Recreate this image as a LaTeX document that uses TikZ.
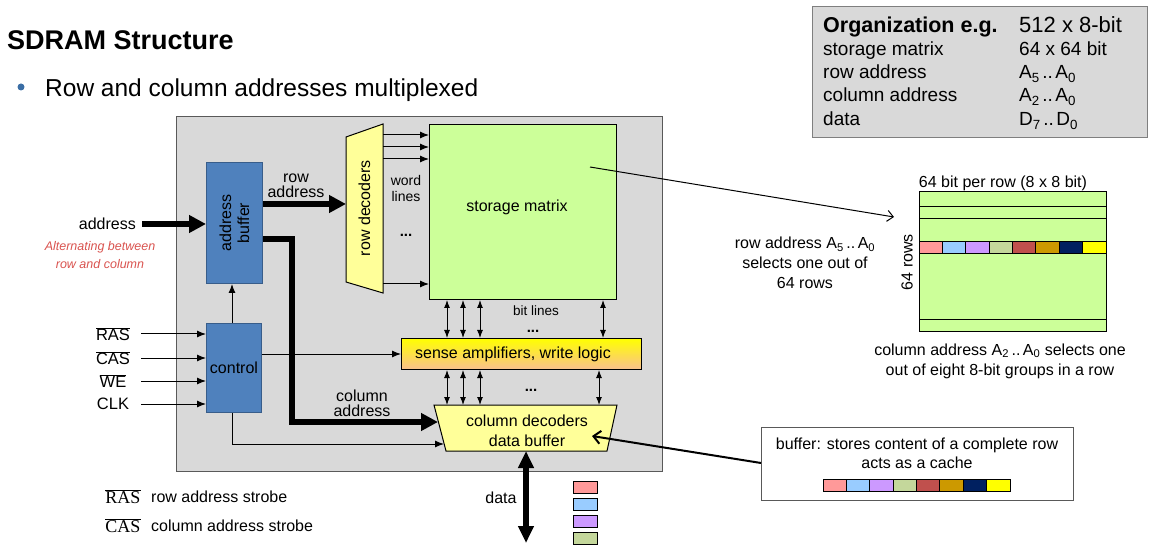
\documentclass[tikz,border=0pt]{standalone}
\usepackage{fontspec}
\setmainfont{Liberation Sans}
\newfontfamily\legserif{Liberation Serif}
\usetikzlibrary{arrows.meta,calc}
\definecolor{panel}{HTML}{D9D9D9}
\definecolor{chipedge}{HTML}{595959}
\definecolor{boxedge}{HTML}{7F7F7F}
\definecolor{blockblue}{HTML}{4F81BD}
\definecolor{blockedge}{HTML}{385D8A}
\definecolor{lyellow}{HTML}{FFFF99}
\definecolor{lgreen}{HTML}{CCFF99}
\definecolor{senseTop}{HTML}{FFFF00}
\definecolor{senseBot}{HTML}{FAC08F}
\definecolor{noteRed}{HTML}{D9534F}
\definecolor{bulletblue}{HTML}{3B6EA5}
\definecolor{cA}{HTML}{FF9999}
\definecolor{cB}{HTML}{99CCFF}
\definecolor{cC}{HTML}{CC99FF}
\definecolor{cD}{HTML}{C4D79B}
\definecolor{cE}{HTML}{C0504D}
\definecolor{cF}{HTML}{CC9900}
\definecolor{cG}{HTML}{002060}
\definecolor{cH}{HTML}{FFFF00}
\newcommand\ovl[1]{$\overline{\mbox{#1}}$}
\newcommand\rng[2]{#1\hspace{2.5pt}..\hspace{2.5pt}#2}
\begin{document}
\begin{tikzpicture}[x=1pt,y=-1pt,
  lbl/.style={font=\fontsize{16}{19}\selectfont, align=center, inner sep=0pt},
  small/.style={font=\fontsize{14}{16}\selectfont, align=center, inner sep=0pt},
  dotsty/.style={font=\bfseries\fontsize{15}{16}\selectfont, inner sep=0pt, anchor=base},
  blk/.style={draw=blockedge, fill=blockblue, line width=1pt, inner sep=0pt, anchor=north west},
  thinarr/.style={line width=1pt, -{Latex[length=9pt,width=7pt]}},
  bidir/.style={line width=1pt, {Latex[length=8pt,width=6pt]}-{Latex[length=8pt,width=6pt]}},
  thickarr/.style={line width=6pt, -{Triangle[length=17pt,width=17pt]}},
  openarr/.style={line width=1pt, -{Straight Barb[length=6pt,width=11pt]}},
  tabtxt/.style={font=\fontsize{19}{22}\selectfont, inner sep=0pt, anchor=base west},
  cell/.style={draw=black, line width=0.8pt}
]
\useasboundingbox (0,0) rectangle (1154,553);

% title and bullet
\node[anchor=base west, inner sep=0pt, font=\bfseries\fontsize{27}{30}\selectfont] (title) at (7,50) {SDRAM Structure};
\node[circle, fill=bulletblue, minimum size=7pt, inner sep=0pt] (bul) at (21,87) {};
\node[anchor=base west, inner sep=0pt, font=\fontsize{24.5}{28}\selectfont] (btxt) at (45,97) {Row and column addresses multiplexed};

% organization table
\node[draw=boxedge, fill=panel, line width=1pt, minimum width=335pt, minimum height=131pt, anchor=north west, inner sep=0pt] (org) at (812,6) {};
\node[tabtxt, font=\bfseries\fontsize{21.5}{24}\selectfont] (o1) at (823,33) {Organization e.g.};
\node[tabtxt, font=\fontsize{22}{24}\selectfont] (v1) at (1019,33) {512 x 8-bit};
\node[tabtxt] (o2) at (823,56) {storage matrix};
\node[tabtxt] (v2) at (1019,56) {64 x 64 bit};
\node[tabtxt] (o3) at (823,79) {row address};
\node[tabtxt] (v3) at (1019,79) {\rng{A\textsubscript{5}}{A\textsubscript{0}}};
\node[tabtxt] (o4) at (823,102) {column address};
\node[tabtxt] (v4) at (1019,102) {\rng{A\textsubscript{2}}{A\textsubscript{0}}};
\node[tabtxt] (o5) at (823,126) {data};
\node[tabtxt] (v5) at (1019,126) {\rng{D\textsubscript{7}}{D\textsubscript{0}}};

% chip panel
\node[draw=chipedge, fill=panel, line width=1.2pt, minimum width=486pt, minimum height=355pt, anchor=north west, inner sep=0pt] (chip) at (176,116) {};

% blocks
\node[blk, minimum width=56pt, minimum height=121pt] (ab) at (206,162) {};
\node[lbl, rotate=90, font=\fontsize{16}{18}\selectfont] (abt) at (ab.center) {address\\buffer};
\node[blk, minimum width=55pt, minimum height=89pt] (ctl) at (206,323) {};
\node[lbl] (ctlt) at (ctl.center) {control};

\node[draw=black, fill=lgreen, line width=1pt, minimum width=187pt, minimum height=175pt, anchor=north west, inner sep=0pt] (sm) at (429,124) {};
\node[lbl] (smt) at (517,207) {storage matrix};

\node[draw=black, line width=1pt, top color=senseTop, bottom color=senseBot, minimum width=240pt, minimum height=31pt, anchor=north west, inner sep=0pt] (sa) at (401,338) {};
\node[lbl] (sat) at (513,354) {sense amplifiers, write logic};

% row decoder trapezoid
\draw[fill=lyellow, line width=1pt] (346,137) -- (383,124) -- (383,293) -- (346,282) -- cycle;
\node[lbl, rotate=90] (rd) at (364.5,208) {row decoders};
\coordinate (rdL) at (346,208);
\coordinate (rdR) at (383,208);

% column decoder trapezoid
\draw[fill=lyellow, line width=1pt] (434,405) -- (617,405) -- (607,451) -- (446,451) -- cycle;
\node[lbl, font=\fontsize{16}{20}\selectfont] (cd) at (527,431) {column decoders\\data buffer};
\coordinate (cdT) at (527,405);
\coordinate (cdB) at (527,451);
\coordinate (cdA) at (438,422);
\coordinate (cdC) at (444,444);
\coordinate (cdN) at (592,436);

% word lines
\foreach \yy in {135,147,159,284} \draw[thinarr] (rdR |- 0,\yy) -- (sm.west |- 0,\yy);
\node[small] (wl) at (406,188) {word\\lines};
\node[dotsty] (wld) at (406,237) {...};

% bit lines
\foreach \xx in {447,463,480,603} \draw[bidir] (sm.south -| \xx,0) -- (sa.north -| \xx,0);
\node[small, font=\fontsize{13.5}{16}\selectfont] (bl) at (536,311) {bit lines};
\node[dotsty] (bld) at (533,333) {...};
\foreach \xx in {447,463,480,599} \draw[bidir] (sa.south -| \xx,0) -- (cdT -| \xx,0);
\node[dotsty] (bld2) at (531,391) {...};

% address path
\coordinate (addrIn) at (142,224);
\node[lbl, anchor=east] (addr) at (136,224) {address};
\node[lbl, font=\itshape\fontsize{12.5}{17.5}\selectfont, text=noteRed] (alt) at (100,255) {Alternating between\\row and column};
\draw[thickarr] (addrIn) -- (ab.west |- addrIn);
\draw[thickarr] (ab.east |- 0,204) -- (rdL |- 0,204);
\node[lbl, font=\fontsize{16}{15}\selectfont] (ra) at (296,186) {row\\address};
\draw[line width=6pt, -{Triangle[length=17pt,width=17pt]}] (ab.east |- 0,239) -| (292,422) -- (cdA);
\node[lbl, font=\fontsize{16}{15}\selectfont] (ca) at (362,403) {column\\address};

% control signals
\foreach \nm/\yy/\tx in {ras/334/\ovl{RAS}, cas/358/\ovl{CAS}, we/381/\ovl{WE}, clk/404/CLK}{
  \node[lbl, font=\fontsize{16.5}{18}\selectfont] (in\nm) at (113,\yy) {\tx};
  \draw[thinarr] (141,\yy) -- (ctl.west |- 0,\yy);
}
\draw[thinarr] (ctl.north -| 232,0) -- (ab.south -| 232,0);
\draw[thinarr] (ctl.east |- 0,354) -- (sa.west |- 0,354);
\draw[thinarr] (ctl.south -| 232,0) |- (cdC);

% data
\draw[line width=6pt, {Triangle[length=17pt,width=15pt]}-{Triangle[length=17pt,width=15pt]}] (cdB -| 526,0) -- (526,543);
\node[lbl] (dat) at (501,498) {data};
\foreach \yy/\cc in {481/cA,498/cB,515/cC,532/cD}
  \draw[cell, fill=\cc] (573,\yy) rectangle (597,\yy+12);

% right matrix
\draw[fill=lgreen, line width=1pt] (919,192) rectangle (1106,332);
\draw[line width=1pt] (919,207) -- (1106,207);
\draw[line width=1pt] (919,219) -- (1106,219);
\draw[line width=1pt] (919,320) -- (1106,320);
\foreach \i/\cc in {0/cA,1/cB,2/cC,3/cD,4/cE,5/cF,6/cG,7/cH}
  \draw[cell, fill=\cc] (919+\i*23.375,241) rectangle (919+\i*23.375+23.375,253);
\node[lbl] (bpr) at (1003,183) {64 bit per row (8 x 8 bit)};
\node[lbl, rotate=90] (rows) at (907,262) {64 rows};
\node[lbl, font=\fontsize{16}{20}\selectfont] (rsel) at (805,263) {row address \rng{A\textsubscript{5}}{A\textsubscript{0}}\\selects one out of\\64 rows};
\node[lbl, font=\fontsize{16}{20}\selectfont] (csel) at (1000,361) {column address \rng{A\textsubscript{2}}{A\textsubscript{0}} selects one\\out of eight 8-bit groups in a row};
\coordinate (smp) at (590,167);
\coordinate (rmp) at (894,217);
\draw[openarr] (smp) -- (rmp);

% buffer note
\node[draw=chipedge, fill=white, line width=1pt, minimum width=312pt, minimum height=73pt, anchor=north west, inner sep=0pt] (buf) at (761,427) {};
\node[lbl, font=\fontsize{16}{19}\selectfont] (buft) at (917,453.5) {buffer: stores content of a complete row\\acts as a cache};
\foreach \i/\cc in {0/cA,1/cB,2/cC,3/cD,4/cE,5/cF,6/cG,7/cH}
  \draw[cell, fill=\cc] (823+\i*23.375,479) rectangle (823+\i*23.375+23.375,491);
\draw[line width=2pt, -{Straight Barb[length=7pt,width=13pt]}] (buf.west |- 0,463) -- (cdN);

% legend
\node[inner sep=0pt, font=\legserif\fontsize{18}{20}\selectfont] (lras) at (123,497) {$\overline{\mbox{RAS}}$};
\node[lbl, anchor=west] (lrast) at (151,497) {row address strobe};
\node[inner sep=0pt, font=\legserif\fontsize{18}{20}\selectfont] (lcas) at (123,526) {$\overline{\mbox{CAS}}$};
\node[lbl, anchor=west] (lcast) at (151,526) {column address strobe};
\end{tikzpicture}
\end{document}
